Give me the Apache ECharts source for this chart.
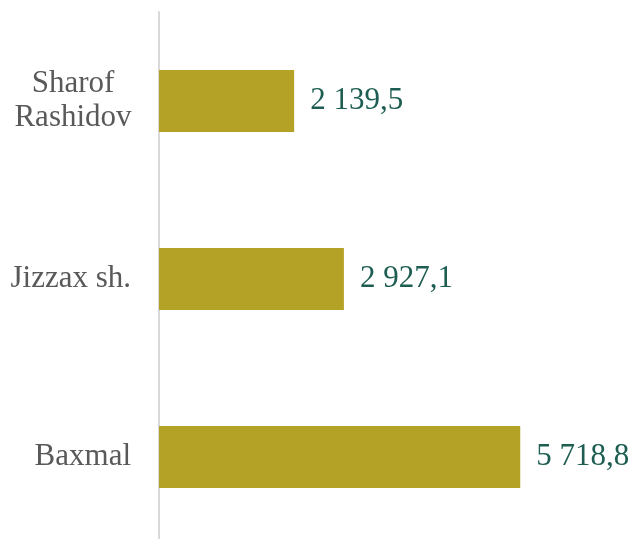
<!DOCTYPE html>
<html>
<head>
<meta charset="utf-8">
<script src="https://cdn.jsdelivr.net/npm/echarts@6/dist/echarts.min.js"></script>
<style>
  html, body { margin: 0; padding: 0; background: #fff; }
  #chart { width: 635px; height: 539px; }
</style>
</head>
<body>
<div id="chart"></div>
<script>
const categories = ['Sharof\nRashidov', 'Jizzax sh.', 'Baxmal']
const values = [2139.5, 2927.1, 5718.8]

function fmt(v) {
  const parts = v.toFixed(1).split('.')
  return parts[0].replace(/\B(?=(\d{3})+(?!\d))/g, ' ') + ',' + parts[1]
}

const chart = echarts.init(document.getElementById('chart'))
chart.setOption({
  animation: false,
  textStyle: { fontFamily: '"Liberation Serif", "Times New Roman", serif' },
  grid: { left: 159, top: 12, width: 379, height: 534, outerBoundsMode: 'none', containLabel: false },
  xAxis: {
    type: 'value',
    min: 0,
    max: 6000,
    show: false,
  },
  yAxis: {
    type: 'category',
    inverse: true,
    data: categories,
    axisLine: { lineStyle: { color: '#D9D9D9', width: 2 } },
    axisTick: { show: false },
    axisLabel: {
      margin: 28,
      fontSize: 31,
      color: '#595959',
      lineHeight: 34,
      formatter: (v) => v.includes('\n') ? v.split('\n').map(s => `{c|${s}}`).join('\n') : v,
      rich: {
        c: { width: 116, align: 'center', fontSize: 31, color: '#595959', lineHeight: 34 },
      },
    },
  },
  series: [
    {
      type: 'bar',
      data: values,
      barWidth: 62,
      itemStyle: { color: '#B3A226' },
      label: {
        show: true,
        position: 'right',
        distance: 16,
        fontSize: 31,
        color: '#1E5E52',
        formatter: (p) => fmt(p.value),
      },
    },
  ],
})
</script>
</body>
</html>
